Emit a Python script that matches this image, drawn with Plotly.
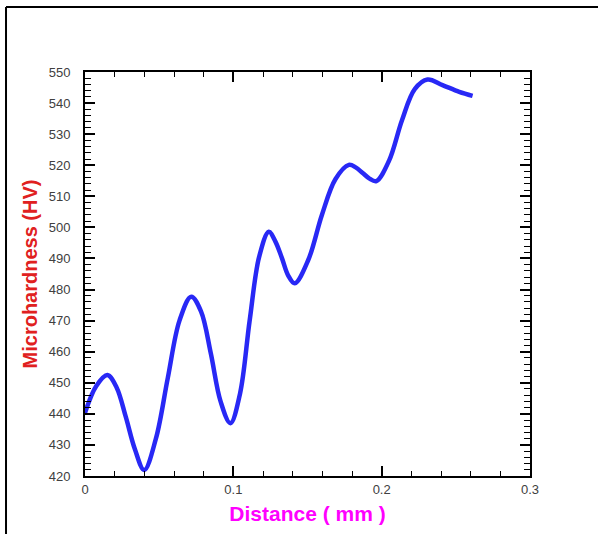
import plotly.graph_objects as go

distance_mm = [0.0, 0.0075, 0.0151,
               0.0213, 0.0275, 0.0337, 0.0399,
               0.0478, 0.0558, 0.0637, 0.0716,
               0.0782, 0.0848, 0.0914, 0.0980,
               0.1045, 0.1110, 0.1174, 0.1239,
               0.1283, 0.1327, 0.1370, 0.1414,
               0.1505, 0.1597, 0.1688, 0.1779,
               0.1825, 0.1872, 0.1918, 0.1964,
               0.2050, 0.2137, 0.2223, 0.2309,
               0.2410, 0.2523, 0.2613]
microhardness_hv = [440.3, 448.9, 452.5,
                    448.5, 439.0, 428.5, 421.9,
                    432.0, 451.5, 470.0, 477.7,
                    473.0, 459.5, 444.0, 437.0,
                    446.5, 470.0, 490.5, 498.6,
                    495.5, 490.2, 484.5, 482.0,
                    489.5, 504.0, 515.5, 520.1,
                    519.3, 517.5, 515.7, 514.9,
                    521.5, 534.5, 544.5, 547.6,
                    545.8, 543.6, 542.3]

x_ticks = [0, 0.1, 0.2, 0.3]
x_tick_labels = ["0", "0.1", "0.2", "0.3"]
y_ticks = list(range(420, 551, 10))

fig = go.Figure()
fig.add_trace(go.Scatter(
    x=distance_mm, y=microhardness_hv, mode="lines",
    line=dict(color="#2828f5", width=4.5, shape="spline", smoothing=1.0),
    showlegend=False, hoverinfo="x+y"))

axis_common = dict(
    showline=True, linecolor="black", linewidth=2, mirror="ticks",
    ticks="inside", tickcolor="black", tickwidth=1.5, ticklen=10,
    showgrid=False, zeroline=False,
    tickfont=dict(family="Liberation Sans, Arial, sans-serif", size=13, color="#404040"),
)

fig.update_layout(
    width=598, height=534,
    margin=dict(l=85, r=68, t=72, b=58),
    paper_bgcolor="white", plot_bgcolor="white",
    xaxis=dict(range=[0, 0.3], tickvals=x_ticks, ticktext=x_tick_labels,
               minor=dict(ticks="inside", ticklen=5, tickcolor="black", tickwidth=1, dtick=0.02),
               title=dict(text="<b>Distance ( mm )</b>", standoff=11,
                          font=dict(family="Liberation Sans, Arial, sans-serif", size=21, color="#ff00ff")),
               **axis_common),
    yaxis=dict(range=[420, 550], tickvals=y_ticks, ticklabelstandoff=10,
               minor=dict(ticks="inside", ticklen=6, tickcolor="black", tickwidth=1, dtick=2),
               title=dict(text="<b>Microhardness (HV)</b>", standoff=6,
                          font=dict(family="Liberation Sans, Arial, sans-serif", size=20, color="#e02020")),
               **axis_common),
    shapes=[
        dict(type="line", xref="paper", yref="paper", x0=-0.1775, x1=1.3, y0=1.161, y1=1.161,
             line=dict(color="black", width=2)),
        dict(type="line", xref="paper", yref="paper", x0=-0.1775, x1=-0.1775, y0=-0.2, y1=1.161,
             line=dict(color="black", width=2)),
    ],
)

fig.write_html("out.html", config={"displayModeBar": False},
               post_script="document.body.style.margin='0';")
